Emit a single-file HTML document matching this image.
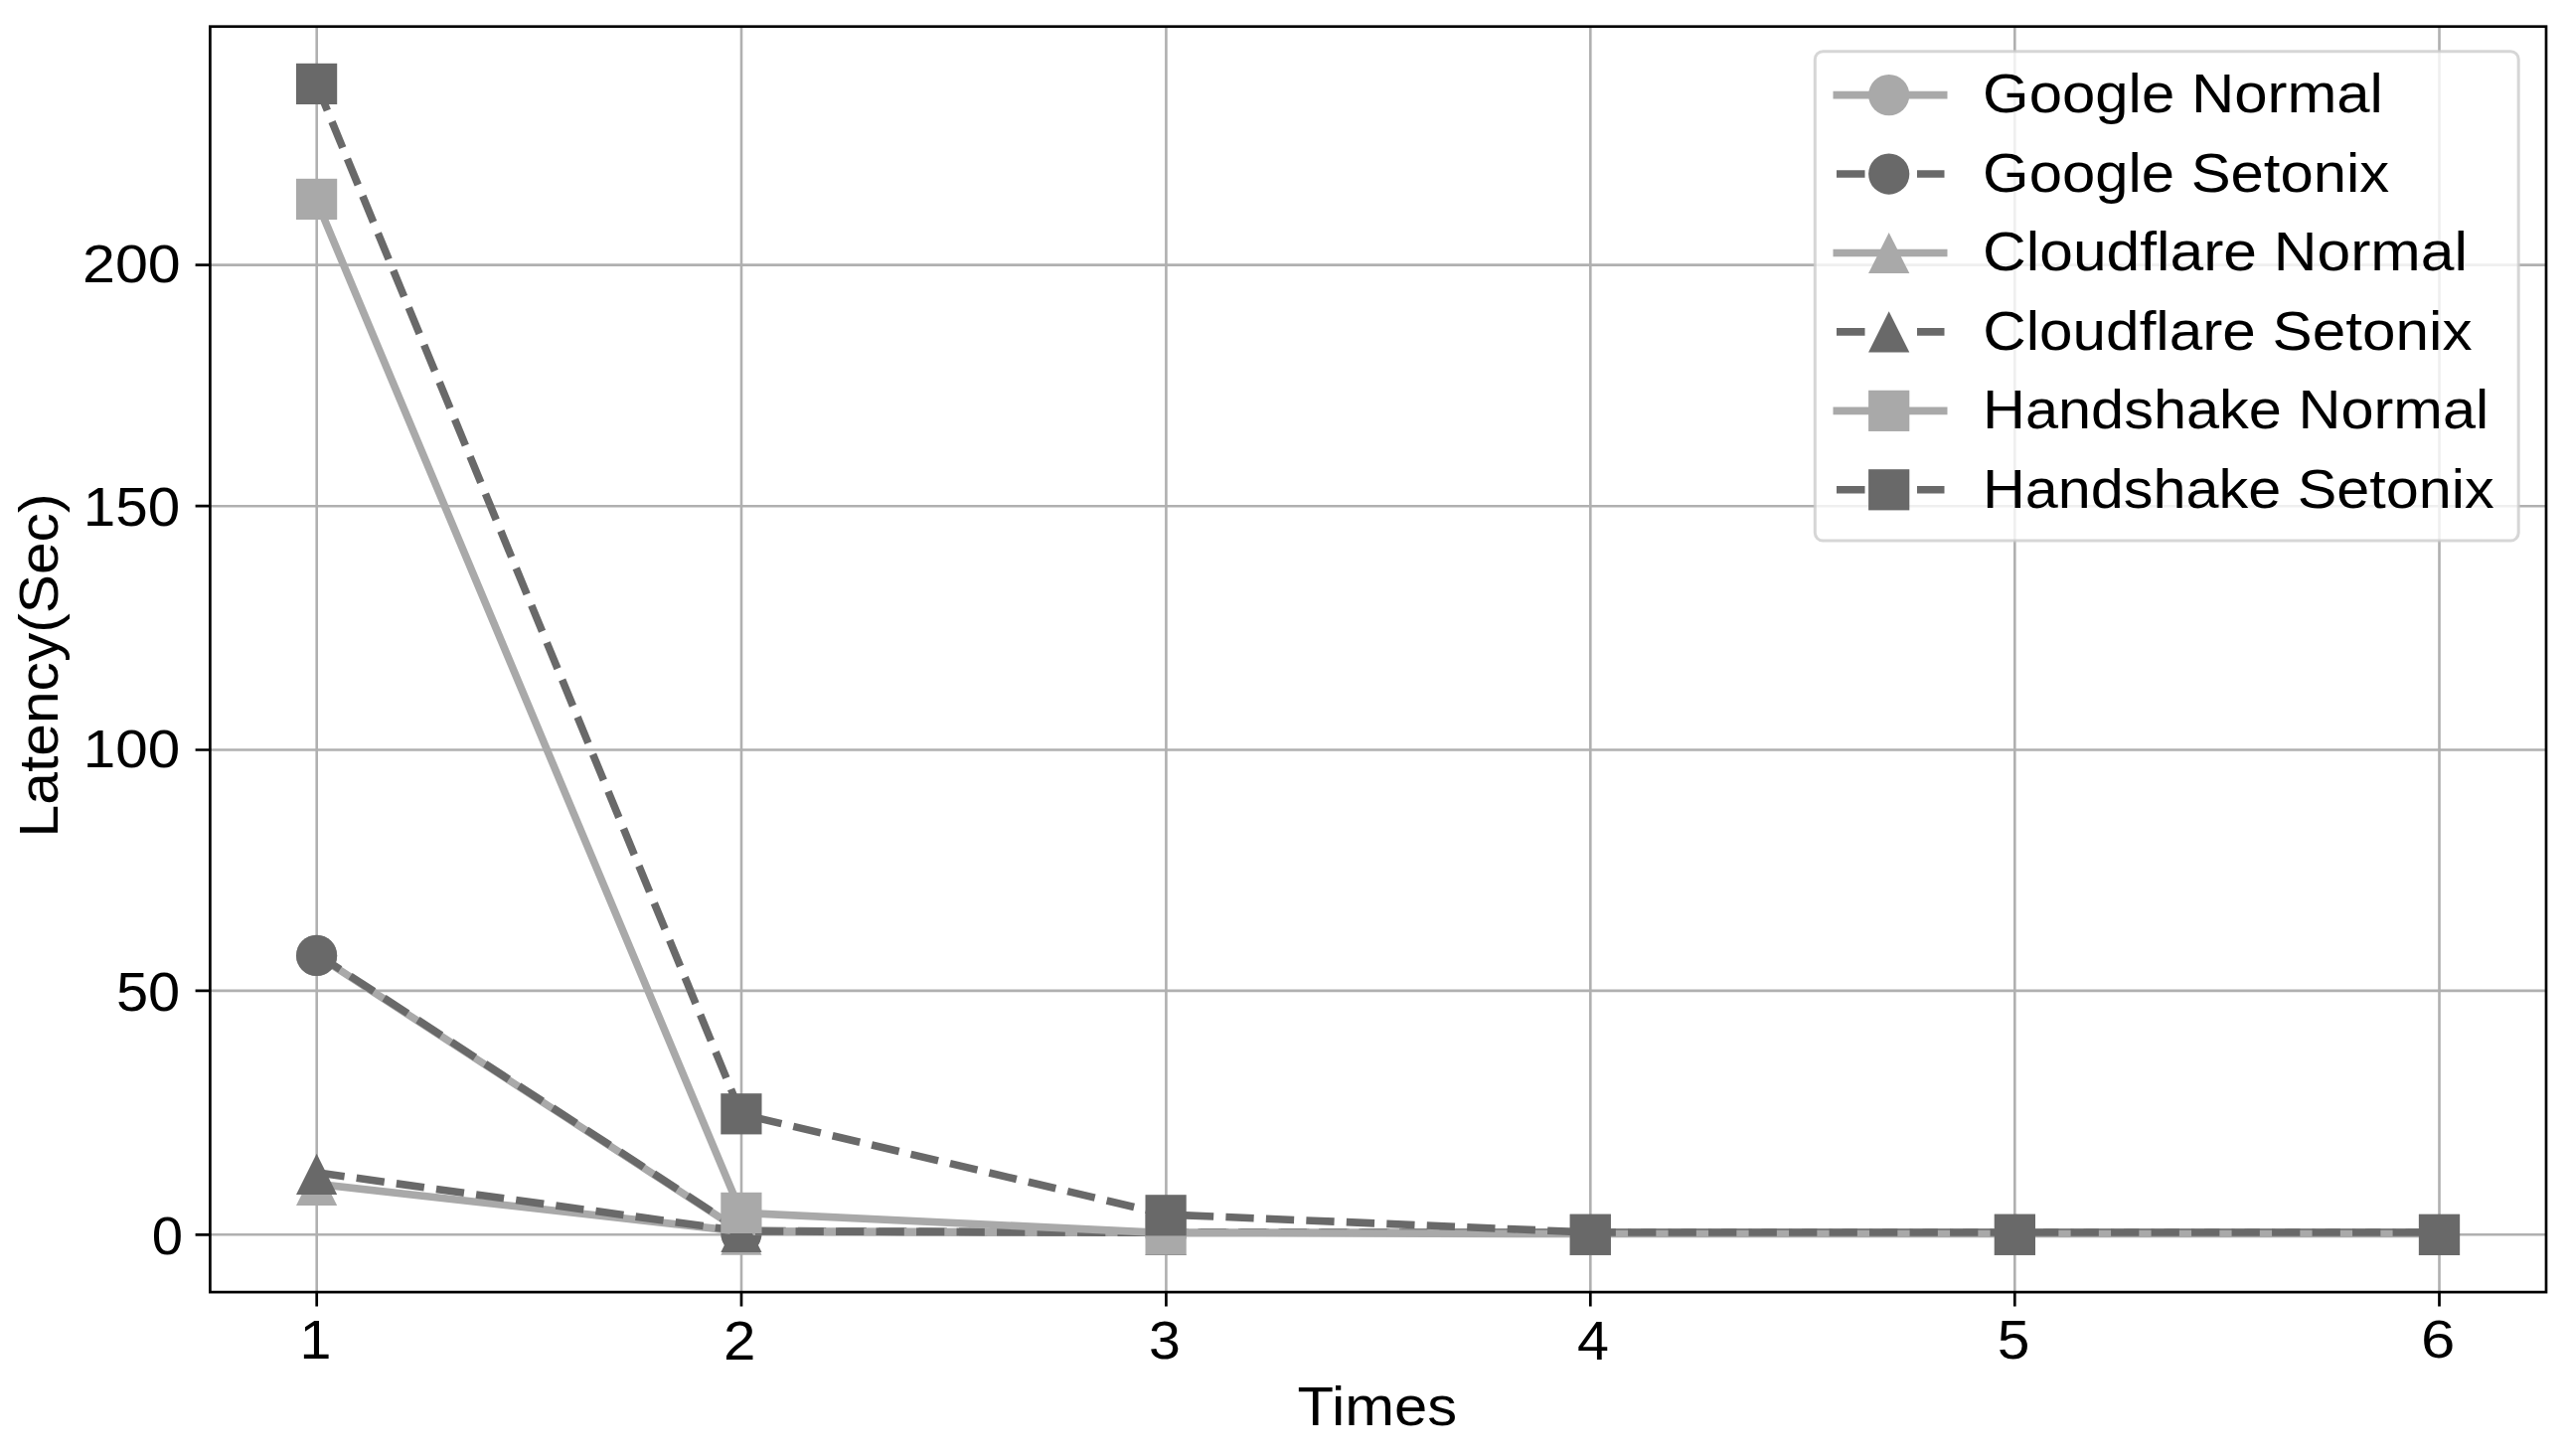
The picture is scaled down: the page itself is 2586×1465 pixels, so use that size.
<!DOCTYPE html>
<html><head><meta charset="utf-8"><title>Latency chart</title>
<style>html,body{margin:0;padding:0;background:#fff;}svg{display:block;}text{font-family:"Liberation Sans",sans-serif;}</style>
</head><body>
<svg width="2586" height="1465" viewBox="0 0 2586 1465">
<rect width="2586" height="1465" fill="#fff"/>
<path d="M318.7 26.7V1300.1M746 26.7V1300.1M1173.4 26.7V1300.1M1600.3 26.7V1300.1M2027.3 26.7V1300.1M2454.5 26.7V1300.1M211.4 1242.3H2562M211.4 996.9H2562M211.4 754.5H2562M211.4 509.2H2562M211.4 266.6H2562" stroke="#b0b0b0" stroke-width="2.6" fill="none"/>
<g>
<path d="M318.6 961 L745.9 1239 L1173.1 1240.3 L1600.3 1240.3 L2027.4 1240.3 L2454.5 1240.3" stroke="#a9a9a9" stroke-width="7.6" fill="none" stroke-linecap="square" stroke-linejoin="round"/>
<circle cx="318.6" cy="961.4" r="20.6" fill="#a9a9a9"/>
<circle cx="745.9" cy="1241" r="20.6" fill="#a9a9a9"/>
<circle cx="1173.1" cy="1242.3" r="20.6" fill="#a9a9a9"/>
<circle cx="1600.3" cy="1242.3" r="20.6" fill="#a9a9a9"/>
<circle cx="2027.4" cy="1242.3" r="20.6" fill="#a9a9a9"/>
<circle cx="2454.5" cy="1242.3" r="20.6" fill="#a9a9a9"/>
<path d="M318.6 960 L745.9 1238.3 L1173.1 1240.3 L1600.3 1240.3 L2027.4 1240.3 L2454.5 1240.3" stroke="#696969" stroke-width="7.6" fill="none" stroke-dasharray="28.27 12.23" stroke-linecap="butt" stroke-linejoin="round"/>
<circle cx="318.6" cy="961.4" r="20.6" fill="#696969"/>
<circle cx="745.9" cy="1241" r="20.6" fill="#696969"/>
<circle cx="1173.1" cy="1242.3" r="20.6" fill="#696969"/>
<circle cx="1600.3" cy="1242.3" r="20.6" fill="#696969"/>
<circle cx="2027.4" cy="1242.3" r="20.6" fill="#696969"/>
<circle cx="2454.5" cy="1242.3" r="20.6" fill="#696969"/>
<path d="M318.6 1191.3 L745.9 1239.1 L1173.1 1240.3 L1600.3 1240.3 L2027.4 1240.3 L2454.5 1240.3" stroke="#a9a9a9" stroke-width="7.6" fill="none" stroke-linecap="square" stroke-linejoin="round"/>
<path d="M318.6 1171.9L339.2 1213.1L298 1213.1Z" fill="#a9a9a9"/>
<path d="M745.9 1221.5L766.5 1262.7L725.3 1262.7Z" fill="#a9a9a9"/>
<path d="M1173.1 1221.7L1193.7 1262.9L1152.5 1262.9Z" fill="#a9a9a9"/>
<path d="M1600.3 1221.7L1620.9 1262.9L1579.7 1262.9Z" fill="#a9a9a9"/>
<path d="M2027.4 1221.7L2048 1262.9L2006.8 1262.9Z" fill="#a9a9a9"/>
<path d="M2454.5 1221.7L2475.1 1262.9L2433.9 1262.9Z" fill="#a9a9a9"/>
<path d="M318.6 1179.8 L745.9 1238.8 L1173.1 1240.3 L1600.3 1240.3 L2027.4 1240.3 L2454.5 1240.3" stroke="#696969" stroke-width="7.6" fill="none" stroke-dasharray="28.27 12.23" stroke-linecap="butt" stroke-linejoin="round"/>
<path d="M318.6 1160.7L339.2 1201.9L298 1201.9Z" fill="#696969"/>
<path d="M745.9 1218.9L766.5 1260.1L725.3 1260.1Z" fill="#696969"/>
<path d="M1173.1 1221.7L1193.7 1262.9L1152.5 1262.9Z" fill="#696969"/>
<path d="M1600.3 1221.7L1620.9 1262.9L1579.7 1262.9Z" fill="#696969"/>
<path d="M2027.4 1221.7L2048 1262.9L2006.8 1262.9Z" fill="#696969"/>
<path d="M2454.5 1221.7L2475.1 1262.9L2433.9 1262.9Z" fill="#696969"/>
<path d="M318.6 202 L745.9 1220.4 L1173.1 1240.6 L1600.3 1241.5 L2027.4 1241.5 L2454.5 1241.5" stroke="#a9a9a9" stroke-width="7.6" fill="none" stroke-linecap="square" stroke-linejoin="round"/>
<rect x="298" y="179.8" width="41.2" height="41.2" fill="#a9a9a9"/>
<rect x="725.3" y="1199.8" width="41.2" height="41.2" fill="#a9a9a9"/>
<rect x="1152.5" y="1221.5" width="41.2" height="41.2" fill="#a9a9a9"/>
<rect x="1579.7" y="1221.7" width="41.2" height="41.2" fill="#a9a9a9"/>
<rect x="2006.8" y="1221.7" width="41.2" height="41.2" fill="#a9a9a9"/>
<rect x="2433.9" y="1221.7" width="41.2" height="41.2" fill="#a9a9a9"/>
<path d="M318.6 85 L745.9 1121 L1173.1 1222 L1600.3 1240 L2027.4 1240 L2454.5 1240" stroke="#696969" stroke-width="7.6" fill="none" stroke-dasharray="28.27 12.23" stroke-linecap="butt" stroke-linejoin="round"/>
<rect x="298" y="63.8" width="41.2" height="41.2" fill="#696969"/>
<rect x="725.3" y="1100.2" width="41.2" height="41.2" fill="#696969"/>
<rect x="1152.5" y="1202.2" width="41.2" height="41.2" fill="#696969"/>
<rect x="1579.7" y="1221.7" width="41.2" height="41.2" fill="#696969"/>
<rect x="2006.8" y="1221.7" width="41.2" height="41.2" fill="#696969"/>
<rect x="2433.9" y="1221.8" width="41.2" height="41.2" fill="#696969"/>
</g>
<rect x="211.4" y="26.7" width="2350.6" height="1273.4" fill="none" stroke="#000" stroke-width="2.7" stroke-linejoin="miter"/>
<path d="M318.7 1300.1V1314.6M746 1300.1V1314.6M1173.4 1300.1V1314.6M1600.3 1300.1V1314.6M2027.3 1300.1V1314.6M2454.5 1300.1V1314.6M211.4 1242.3H196.6M211.4 996.9H196.6M211.4 754.5H196.6M211.4 509.2H196.6M211.4 266.6H196.6" stroke="#000" stroke-width="2.7" fill="none"/>
<g font-family="&quot;Liberation Sans&quot;, sans-serif" fill="#000">
<text transform="translate(83.04 283.96) scale(1.0970 1)" font-size="53.94">200</text>
<text transform="translate(83.73 529.35) scale(1.0657 1)" font-size="54.79">150</text>
<text transform="translate(83.73 771.66) scale(1.0852 1)" font-size="53.8">100</text>
<text transform="translate(116.99 1017.25) scale(1.0571 1)" font-size="54.65">50</text>
<text transform="translate(152.75 1262.25) scale(1.0320 1)" font-size="54.51">0</text>
<text transform="translate(301.5 1367.3) scale(1.0430 1)" font-size="55.07">1</text>
<text transform="translate(727.99 1367.6) scale(1.0593 1)" font-size="55">2</text>
<text transform="translate(1156.01 1366.96) scale(1.0610 1)" font-size="53.94">3</text>
<text transform="translate(1586.95 1368.06) scale(1.0200 1)" font-size="56.32">4</text>
<text transform="translate(2009.85 1366.95) scale(1.0677 1)" font-size="55">5</text>
<text transform="translate(2435.91 1366.17) scale(1.1627 1)" font-size="53.1">6</text>
<text transform="translate(1305.6 1433.8) scale(1.0617 1)" font-size="56.3">Times</text>
<text transform="translate(58 842.4) rotate(-90) scale(1.0563 1)" font-size="55.6">Latency(Sec)</text>
</g>
<rect x="1826.3" y="51.7" width="707.9" height="492.4" rx="8" ry="8" fill="#fff" fill-opacity="0.8" stroke="#cccccc" stroke-opacity="0.8" stroke-width="3"/>
<path d="M1844.5 95.6H1959.5" stroke="#a9a9a9" stroke-width="7.6" fill="none"/>
<circle cx="1900.7" cy="95.6" r="20.6" fill="#a9a9a9"/>
<path d="M1848 175.04H1876.5M1929 175.04H1956.5" stroke="#696969" stroke-width="7.6" fill="none"/>
<circle cx="1900.7" cy="175.04" r="20.6" fill="#696969"/>
<path d="M1844.5 254.48H1959.5" stroke="#a9a9a9" stroke-width="7.6" fill="none"/>
<path d="M1900.7 233.88L1921.3 275.08L1880.1 275.08Z" fill="#a9a9a9"/>
<path d="M1848 333.92H1876.5M1929 333.92H1956.5" stroke="#696969" stroke-width="7.6" fill="none"/>
<path d="M1900.7 313.32L1921.3 354.52L1880.1 354.52Z" fill="#696969"/>
<path d="M1844.5 413.36H1959.5" stroke="#a9a9a9" stroke-width="7.6" fill="none"/>
<rect x="1880.1" y="392.76" width="41.2" height="41.2" fill="#a9a9a9"/>
<path d="M1848 492.8H1876.5M1929 492.8H1956.5" stroke="#696969" stroke-width="7.6" fill="none"/>
<rect x="1880.1" y="472.2" width="41.2" height="41.2" fill="#696969"/>
<g font-family="&quot;Liberation Sans&quot;, sans-serif" fill="#000">
<text transform="translate(1995.1 113.3) scale(1.0775 1)" font-size="55.6">Google Normal</text>
<text transform="translate(1995.11 192.74) scale(1.0762 1)" font-size="55.6">Google Setonix</text>
<text transform="translate(1995.07 272.18) scale(1.0889 1)" font-size="55.6">Cloudflare Normal</text>
<text transform="translate(1995.19 351.62) scale(1.0840 1)" font-size="55.6">Cloudflare Setonix</text>
<text transform="translate(1994.94 431.06) scale(1.0702 1)" font-size="55.6">Handshake Normal</text>
<text transform="translate(1994.95 510.5) scale(1.0674 1)" font-size="55.6">Handshake Setonix</text>
</g>
</svg>
</body></html>
